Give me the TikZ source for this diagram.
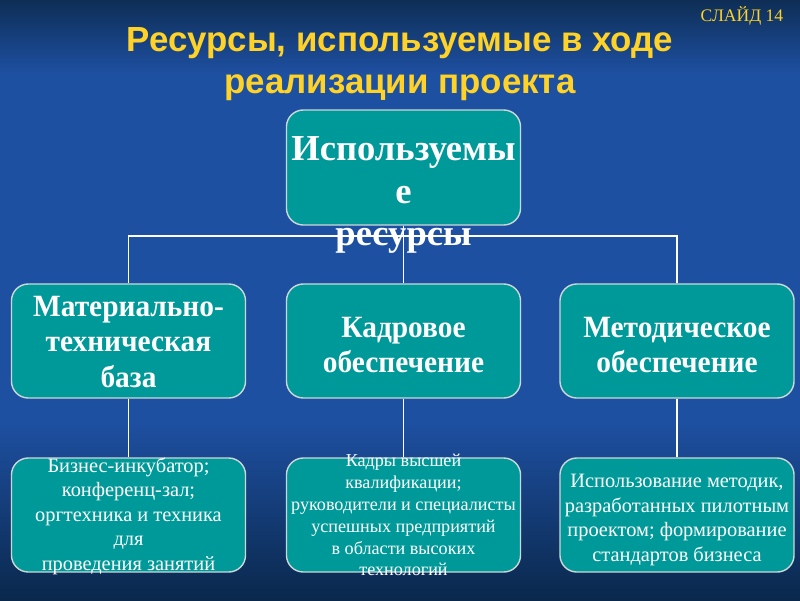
\documentclass[tikz,border=0pt]{standalone}
\usepackage{fontspec}
\setmainfont{Liberation Serif}
\newfontfamily\titlefont{Liberation Sans}
\newfontfamily\narrowfont[FakeStretch=0.95]{Liberation Serif}
\usetikzlibrary{positioning, calc, backgrounds}

\definecolor{slideteal}{RGB}{0,153,153}
\definecolor{slideyellow}{RGB}{255,210,40}
\definecolor{bgtop}{RGB}{14,46,86}
\definecolor{bgmid}{RGB}{30,80,162}
\definecolor{bgbottom}{RGB}{10,40,76}
\definecolor{boxline}{RGB}{205,215,215}

\begin{document}
\begin{tikzpicture}[x=0.025cm, y=-0.025cm,
    resbox/.style={draw=boxline, line width=1pt, fill=slideteal, rounded corners=12pt,
        minimum width=5.85cm, minimum height=2.85cm, inner sep=0pt},
    headtext/.style={text=white, font=\bfseries\fontsize{26}{30}\selectfont, align=center},
    midtext/.style={text=white, font=\narrowfont\bfseries\fontsize{22}{25.5}\selectfont, align=center},
    subtext/.style={text=white, font=\fontsize{14.5}{17.4}\selectfont, align=center},
    smalltext/.style={text=white, font=\fontsize{12.9}{15.6}\selectfont, align=center},
    link/.style={draw=white, line width=1.4pt}]
    % =========================================================
    % SLIDE BACKGROUND AND TITLE
    % =========================================================
    \useasboundingbox (0,0) rectangle (800,600);
    \begin{scope}[on background layer, y=0.025cm]
        \fill[bgmid] (0,-600) rectangle (800,0);
        \shade[top color=bgtop, bottom color=bgmid] (0,-75) rectangle (800,0);
        \shade[top color=bgmid, bottom color=bgbottom] (0,-600) rectangle (800,-420);
    \end{scope}
    \node (title) at (400,64) [text=slideyellow, align=center,
        font=\titlefont\bfseries\fontsize{24.8}{30}\selectfont]
        {Ресурсы, используемые в ходе\\реализации проекта};
    \node (slideno) at (742,16) [text=slideyellow, font=\fontsize{12.5}{14}\selectfont] {СЛАЙД 14};

    % =========================================================
    % RESOURCE BOXES
    % =========================================================
    \node[resbox, minimum height=2.875cm] (res) at (403.5,167.5) {};
    \node[headtext] (resText) at (403.5,195) {Используемы\\е\\ресурсы};

    \node[resbox] (mat) at (128.5,341) {};
    \node[resbox] (kad) at (403.5,341) {};
    \node[resbox] (met) at (677,341) {};
    \node[midtext] (matText) at ($(mat.center)+(0,1)$) {Материально-\\техническая\\база};
    \node[midtext] (kadText) at ($(kad.center)+(0,4)$) {Кадровое\\обеспечение};
    \node[midtext] (metText) at ($(met.center)+(0,4)$) {Методическое\\обеспечение};

    \node[resbox] (biz) at (128.5,515) {};
    \node[resbox] (staff) at (403.5,515) {};
    \node[resbox] (meth) at (677,515) {};
    \node[subtext] (bizText) at ($(biz.center)+(0,1)$)
        {Бизнес-инкубатор;\\конференц-зал;\\оргтехника и техника\\для\\проведения занятий};
    \node[smalltext] (staffText) at (staff.center)
        {Кадры высшей\\квалификации;\\руководители и специалисты\\успешных предприятий\\в области высоких\\технологий};
    \node[subtext] (methText) at ($(meth.center)+(0,5)$)
        {Использование методик,\\разработанных пилотным\\проектом; формирование\\стандартов бизнеса};

    % =========================================================
    % CONNECTORS
    % =========================================================
    \coordinate (bus) at (403.5,236);
    \begin{scope}[on background layer]
        \draw[link] (res.south) -- (kad.north);
        \draw[link] (mat.north) -- (mat.north |- bus) -- (met.north |- bus) -- (met.north);
        \draw[link] (mat.south) -- (biz.north);
        \draw[link] (kad.south) -- (staff.north);
        \draw[link] (met.south) -- (meth.north);
    \end{scope}
\end{tikzpicture}
\end{document}
